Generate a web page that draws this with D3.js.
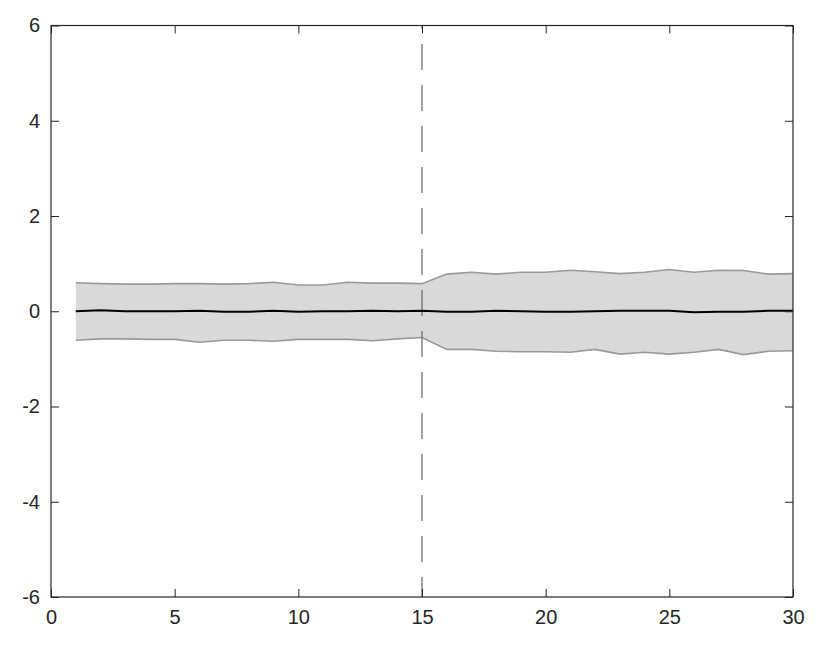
<!DOCTYPE html>
<html>
<head>
<meta charset="utf-8">
<script src="https://cdn.jsdelivr.net/npm/d3@7"></script>
<style>
  body { margin: 0; background: #fff; }
  svg { display: block; font-family: "Liberation Sans", Arial, sans-serif; }
</style>
</head>
<body>
<svg width="830" height="648"></svg>
<script>
// data
const steps = d3.range(1, 31);
const meanValues = [0, 0.02, 0, 0, 0, 0.01, -0.01, -0.01, 0.01, -0.01,
                    0, 0, 0.01, 0, 0.01, -0.01, -0.01, 0.01, 0, -0.01,
                    -0.01, 0, 0.01, 0.01, 0.01, -0.02, -0.01, -0.01, 0.01, 0.01];
const upperValues = [0.6, 0.58, 0.57, 0.57, 0.58, 0.58, 0.57, 0.58, 0.61, 0.55,
                     0.55, 0.61, 0.59, 0.59, 0.58, 0.78, 0.82, 0.78, 0.82, 0.82,
                     0.86, 0.83, 0.79, 0.82, 0.875, 0.82, 0.86, 0.855, 0.78, 0.79];
const lowerValues = [-0.61, -0.58, -0.58, -0.59, -0.59, -0.65, -0.61, -0.61, -0.63, -0.59,
                     -0.59, -0.59, -0.62, -0.58, -0.55, -0.8, -0.8, -0.84, -0.85, -0.85,
                     -0.86, -0.8, -0.9, -0.86, -0.9, -0.86, -0.8, -0.91, -0.84, -0.83];
const breakPoint = 15;
const xTicks = [0, 5, 10, 15, 20, 25, 30];
const yTicks = [-6, -4, -2, 0, 2, 4, 6];

const margin = { top: 25.5, right: 37, bottom: 51, left: 51 };
const svg = d3.select("svg");
const width = 830 - margin.left - margin.right;
const height = 648 - margin.top - margin.bottom;
const g = svg.append("g").attr("transform", `translate(${margin.left},${margin.top})`);

const x = d3.scaleLinear().domain([0, 30]).range([0, width]);
const y = d3.scaleLinear().domain([-6, 6]).range([height, 0]);

const rows = steps.map((s, i) => ({ s, m: meanValues[i], hi: upperValues[i], lo: lowerValues[i] }));

// shaded band
g.append("path")
  .datum(rows)
  .attr("fill", "#d9d9d9")
  .attr("d", d3.area().x(d => x(d.s)).y0(d => y(d.lo)).y1(d => y(d.hi)));

const edge = key => d3.line().x(d => x(d.s)).y(d => y(d[key]));
["hi", "lo"].forEach(k => {
  g.append("path").datum(rows)
    .attr("fill", "none").attr("stroke", "#999").attr("stroke-width", 1.6)
    .attr("d", edge(k));
});

// vertical dashed line (drawn top to bottom)
g.append("line")
  .attr("x1", x(breakPoint)).attr("x2", x(breakPoint))
  .attr("y1", y(6)).attr("y2", y(-6))
  .attr("stroke", "#666").attr("stroke-width", 1.2)
  .attr("stroke-dasharray", "26,15")
  .attr("stroke-dashoffset", 22.5);

// mean
g.append("path").datum(rows)
  .attr("fill", "none").attr("stroke", "#000").attr("stroke-width", 2)
  .attr("d", edge("m"));

// axes, MATLAB style: box with inward ticks on all sides
const axisColor = "#262626";
function styleAxis(sel) {
  sel.select(".domain").remove();
  sel.selectAll(".tick line").attr("stroke", axisColor);
  sel.selectAll(".tick text").attr("fill", axisColor).style("font-size", "20px");
}
const plain = d => String(d); // hyphen minus like the original
g.append("g").attr("transform", `translate(0,${height})`)
  .call(d3.axisBottom(x).tickValues(xTicks).tickFormat(plain).tickSizeInner(-8).tickPadding(13))
  .call(styleAxis);
g.append("g")
  .call(d3.axisTop(x).tickValues(xTicks).tickSizeInner(-8).tickFormat(""))
  .call(styleAxis);
g.append("g")
  .call(d3.axisLeft(y).tickValues(yTicks).tickFormat(plain).tickSizeInner(-8).tickPadding(11))
  .call(styleAxis);
g.append("g").attr("transform", `translate(${width},0)`)
  .call(d3.axisRight(y).tickValues(yTicks).tickSizeInner(-8).tickFormat(""))
  .call(styleAxis);

g.append("rect")
  .attr("width", width).attr("height", height)
  .attr("fill", "none").attr("stroke", axisColor).attr("stroke-width", 1.2);
</script>
</body>
</html>
